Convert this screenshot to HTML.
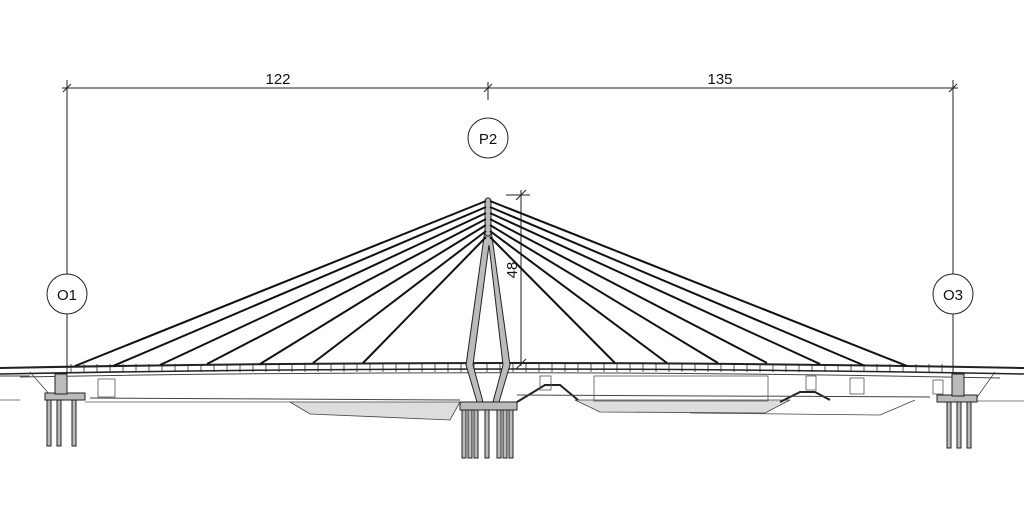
<!DOCTYPE html>
<html><head><style>body{margin:0;background:#fff}svg{display:block}text{font-family:"Liberation Sans",sans-serif;fill:#111}</style></head>
<body>
<svg width="1024" height="514" viewBox="0 0 1024 514" xmlns="http://www.w3.org/2000/svg">
<defs><pattern id="h" width="13" height="10" patternUnits="userSpaceOnUse"><line x1="6" y1="0" x2="6" y2="10" stroke="#555" stroke-width="1"/></pattern></defs>
<g stroke="#222" stroke-width="1" fill="none">
<line x1="62" y1="88" x2="958" y2="88"/>
<line x1="67" y1="80" x2="67" y2="274"/><line x1="67" y1="314" x2="67" y2="372"/>
<line x1="953" y1="80" x2="953" y2="274"/><line x1="953" y1="314" x2="953" y2="372"/>
<line x1="488" y1="82" x2="488" y2="100"/>
<line x1="63" y1="92" x2="71" y2="84"/><line x1="484" y1="92" x2="492" y2="84"/><line x1="949" y1="92" x2="957" y2="84"/>
<circle cx="488" cy="138" r="20"/><circle cx="67" cy="294" r="20"/><circle cx="953" cy="294" r="20"/>
<line x1="521" y1="190" x2="521" y2="366"/>
<line x1="506" y1="195" x2="530" y2="195"/><line x1="516" y1="200" x2="526" y2="190"/><line x1="516" y1="369" x2="526" y2="359"/>
</g>
<text x="278" y="84" font-size="15" text-anchor="middle">122</text>
<text x="720" y="84" font-size="15" text-anchor="middle">135</text>
<text x="488" y="144" font-size="15" text-anchor="middle">P2</text>
<text x="67" y="300" font-size="15" text-anchor="middle">O1</text>
<text x="953" y="300" font-size="15" text-anchor="middle">O3</text>
<text x="0" y="0" font-size="15" text-anchor="middle" transform="translate(517,270) rotate(-90)">48</text>
<path d="M290 402 L310 414 L450 420 L460 402 Z" fill="#ddd" stroke="#444" stroke-width="0.8"/>
<path d="M575 400 L600 412 L765 413 L790 400 Z" fill="#ddd" stroke="#444" stroke-width="0.8"/>
<path d="M690 413 L880 415 L915 400" fill="none" stroke="#444" stroke-width="0.8"/>
<path d="M85 402 L290 402 M0 400 L20 400 M960 401 L1024 401" stroke="#555" stroke-width="0.8" fill="none"/>
<path d="M517 402 L545 385 L560 385 L578 400 M780 402 L800 392 L815 392 L830 400" stroke="#222" stroke-width="2" fill="none"/>
<path d="M30 372 L50 395 M995 372 L975 400" stroke="#444" stroke-width="0.8"/>
<rect x="70" y="364" width="880" height="8" fill="url(#h)"/>
<path d="M0 368 Q512 358 1024 368" stroke="#222" stroke-width="2" fill="none"/>
<path d="M0 374 Q512 364 1024 374" stroke="#222" stroke-width="1.5" fill="none"/>
<path d="M20 377 Q512 368 1000 378" stroke="#444" stroke-width="1" fill="none"/>
<line x1="0" y1="376" x2="30" y2="376" stroke="#444"/>
<line x1="90" y1="398" x2="460" y2="400" stroke="#444"/><line x1="517" y1="395" x2="930" y2="397" stroke="#444"/>
<g fill="none" stroke="#555" stroke-width="0.8">
<rect x="98" y="379" width="17" height="18"/><rect x="540" y="376" width="11" height="14"/><rect x="594" y="376" width="174" height="25"/>
<rect x="806" y="376" width="10" height="14"/><rect x="850" y="378" width="14" height="16"/><rect x="933" y="380" width="10" height="14"/>
</g>
<g fill="#bbb" stroke="#222" stroke-width="1">
<rect x="45" y="393" width="40" height="7"/><rect x="47" y="400" width="4" height="46"/><rect x="57" y="400" width="4" height="46"/><rect x="72" y="400" width="4" height="46"/>
<rect x="55" y="374" width="12" height="20"/>
<rect x="937" y="395" width="40" height="7"/><rect x="947" y="402" width="4" height="46"/><rect x="957" y="402" width="4" height="46"/><rect x="967" y="402" width="4" height="46"/>
<rect x="952" y="374" width="12" height="22"/>
</g>
<g fill="#bbb" stroke="#222" stroke-width="1">
<rect x="460" y="402" width="57" height="8"/>
<rect x="462" y="410" width="4" height="48"/><rect x="468" y="410" width="4" height="48"/><rect x="474" y="410" width="4" height="48"/><rect x="485" y="410" width="4" height="48"/><rect x="497" y="410" width="4" height="48"/><rect x="503" y="410" width="4" height="48"/><rect x="509" y="410" width="4" height="48"/>
<path d="M485 230 L466 365 L477 402 L483 402 L473 365 L489 245 L503 365 L493 402 L499 402 L510 365 L491 230 Z"/>
<rect x="485" y="198" width="6" height="38" rx="3"/>
</g>
<g stroke="#111" stroke-width="2" fill="none">
<line x1="486" y1="201" x2="75" y2="366"/><line x1="486" y1="207" x2="113" y2="366"/><line x1="486" y1="213" x2="160" y2="365"/><line x1="486" y1="219" x2="207" y2="364"/><line x1="486" y1="225" x2="260" y2="364"/><line x1="486" y1="231" x2="313" y2="363"/><line x1="486" y1="237" x2="363" y2="363"/>
<line x1="490" y1="201" x2="907" y2="366"/><line x1="490" y1="207" x2="863" y2="365"/><line x1="490" y1="213" x2="820" y2="364"/><line x1="490" y1="219" x2="767" y2="363"/><line x1="490" y1="225" x2="718" y2="363"/><line x1="490" y1="231" x2="667" y2="363"/><line x1="490" y1="237" x2="615" y2="363"/>
</g>
</svg>
</body></html>
